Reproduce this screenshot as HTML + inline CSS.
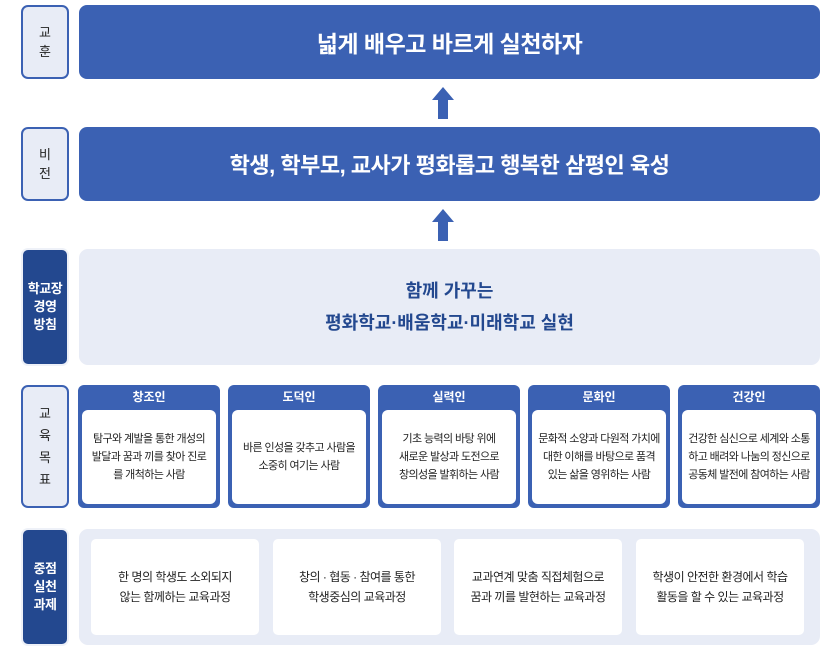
<!DOCTYPE html>
<html><head><meta charset="utf-8"><style>
*{margin:0;padding:0;box-sizing:border-box}
body{width:840px;height:658px;background:#fff;position:relative;font-family:"Liberation Sans","Noto Sans CJK KR",sans-serif;overflow:hidden}
.a{position:absolute;display:flex;align-items:center;justify-content:center;text-align:center}
.lbl{background:#e8ecf6;border:2px solid #3b61b3;border-radius:7px;color:#222;font-size:13px;line-height:19px}
.dk{background:#23488f;border:2px solid #eef1f8;border-radius:7px;color:#fff;font-size:13px;font-weight:bold;line-height:18px;letter-spacing:-0.5px}
.blue{background:#3b61b3;border-radius:8px;color:#fff;font-weight:bold;letter-spacing:-0.5px}
.light{background:#e8ecf6;border-radius:9px}
.col{position:absolute;background:#3b61b3;border-radius:6px}
.col .h{color:#fff;font-size:12px;font-weight:bold;text-align:center;height:25px;line-height:25px}
.col .w{position:absolute;left:4px;right:4px;top:25px;bottom:4px;background:#fff;border-radius:6px;display:flex;align-items:center;justify-content:center;text-align:center;font-size:11px;letter-spacing:-0.6px;color:#222;line-height:18px;white-space:nowrap}
.card{position:absolute;background:#fff;border-radius:5px;display:flex;align-items:center;justify-content:center;text-align:center;font-size:12px;letter-spacing:-0.5px;color:#222;line-height:20px;white-space:nowrap}
.arr{position:absolute;width:0;height:0;border-left:11px solid transparent;border-right:11px solid transparent;border-bottom:13px solid #3b61b3}
.stem{position:absolute;width:10px;background:#3b61b3}
</style></head><body>
<div class="a lbl" style="left:21px;top:5px;width:48px;height:74px">교<br>훈</div>
<div class="a blue" style="left:79px;top:5px;width:741px;height:74px;font-size:23px">넓게 배우고 바르게 실천하자</div>
<div class="arr" style="left:432px;top:87px"></div><div class="stem" style="left:438px;top:99px;height:20px"></div>
<div class="a lbl" style="left:21px;top:127px;width:48px;height:74px">비<br>전</div>
<div class="a blue" style="left:79px;top:127px;width:741px;height:74px;font-size:22px">학생, 학부모, 교사가 평화롭고 행복한 삼평인 육성</div>
<div class="arr" style="left:432px;top:209px"></div><div class="stem" style="left:438px;top:221px;height:20px"></div>
<div class="a dk" style="left:21px;top:248px;width:48px;height:118px">학교장<br>경영<br>방침</div>
<div class="a light" style="left:79px;top:249px;width:741px;height:116px;color:#23488f;font-weight:bold;font-size:18px;line-height:32px">함께 가꾸는<br>평화학교·배움학교·미래학교 실현</div>
<div class="a lbl" style="left:21px;top:385px;width:48px;height:123px;line-height:22px">교<br>육<br>목<br>표</div>
<div class="col" style="left:78px;top:385px;width:142px;height:123px"><div class="h">창조인</div><div class="w">탐구와 계발을 통한 개성의<br>발달과 꿈과 끼를 찾아 진로<br>를 개척하는 사람</div></div>
<div class="col" style="left:228px;top:385px;width:142px;height:123px"><div class="h">도덕인</div><div class="w">바른 인성을 갖추고 사람을<br>소중히 여기는 사람</div></div>
<div class="col" style="left:378px;top:385px;width:142px;height:123px"><div class="h">실력인</div><div class="w">기초 능력의 바탕 위에<br>새로운 발상과 도전으로<br>창의성을 발휘하는 사람</div></div>
<div class="col" style="left:528px;top:385px;width:142px;height:123px"><div class="h">문화인</div><div class="w">문화적 소양과 다원적 가치에<br>대한 이해를 바탕으로 품격<br>있는 삶을 영위하는 사람</div></div>
<div class="col" style="left:678px;top:385px;width:142px;height:123px"><div class="h">건강인</div><div class="w">건강한 심신으로 세계와 소통<br>하고 배려와 나눔의 정신으로<br>공동체 발전에 참여하는 사람</div></div>
<div class="a dk" style="left:21px;top:528px;width:48px;height:118px">중점<br>실천<br>과제</div>
<div class="light" style="position:absolute;left:79px;top:529px;width:741px;height:116px"></div>
<div class="card" style="left:91px;top:539px;width:168px;height:96px">한 명의 학생도 소외되지<br>않는 함께하는 교육과정</div>
<div class="card" style="left:273px;top:539px;width:168px;height:96px">창의 · 협동 · 참여를 통한<br>학생중심의 교육과정</div>
<div class="card" style="left:454px;top:539px;width:168px;height:96px">교과연계 맞춤 직접체험으로<br>꿈과 끼를 발현하는 교육과정</div>
<div class="card" style="left:636px;top:539px;width:168px;height:96px">학생이 안전한 환경에서 학습<br>활동을 할 수 있는 교육과정</div>
</body></html>
